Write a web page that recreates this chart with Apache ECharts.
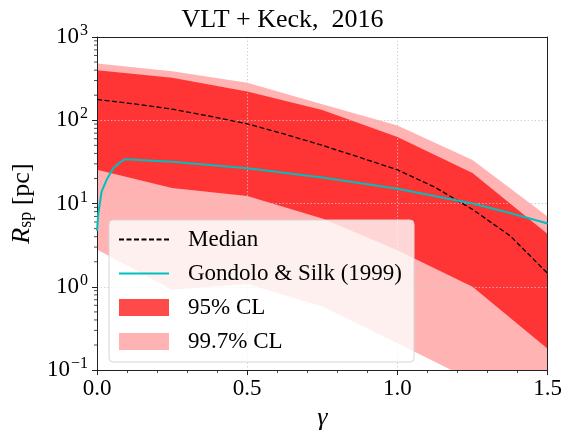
<!DOCTYPE html>
<html>
<head>
<meta charset="utf-8">
<script src="https://cdn.jsdelivr.net/npm/echarts@6/dist/echarts.min.js"></script>
<style>
html,body{margin:0;padding:0;background:#fff;}
#chart{width:565px;height:436px;}
</style>
</head>
<body>
<div id="chart"></div>
<script>
// ---- data ----
const bandGamma = [0, 0.25, 0.5, 0.75, 1.0, 1.25, 1.5];
const cl997Upper = [479, 388, 283, 156, 86.5, 33.3, 7.0];
const cl95Upper = [398, 324, 221, 133, 63, 23.2, 4.3];
const cl95Lower = [25.4, 15.4, 12.3, 6.6, 2.75, 1.0, 0.18];
const cl997Lower = [2.8, 0.92, 1.08, 0.58, 0.21, 0.075, 0.03];

const medianGamma = [0, 0.125, 0.25, 0.375, 0.5, 0.625, 0.75, 0.875, 1.0, 1.125, 1.25, 1.375, 1.5];
const medianValues = [178, 157, 136, 112, 90.6, 68, 50, 35.8, 25.4, 15.7, 8.5, 4.1, 1.45];

const gsGamma = [0, 0.004, 0.0155, 0.032, 0.054, 0.075, 0.093, 0.25, 0.5, 0.75, 1.0, 1.25, 1.375, 1.5];
const gsValues = [4.7, 7.4, 14, 19.3, 26.5, 31, 34, 31.8, 26.5, 20.5, 15.1, 10, 7.7, 5.76];

const xTickLabels = ['0.0', '0.5', '1.0', '1.5'];
const yTickExponents = {'-1': '\u22121', '0': '0', '1': '1', '2': '2', '3': '3'};
const yMinorTicks = [0.2,0.3,0.4,0.5,0.6,0.7,0.8,0.9, 2,3,4,5,6,7,8,9, 20,30,40,50,60,70,80,90, 200,300,400,500,600,700,800,900];

const seriesNames = ['Median', 'Gondolo & Silk (1999)', '95% CL', '99.7% CL'];

// ---- styles ----
const FONT = 'Liberation Serif';
const DARK = '#ff3535';
const LIGHT = '#ffb3b3';
const DARK_LEG = '#ff4a4a';
const TEAL = '#00bfbf';

const chart = echarts.init(document.getElementById('chart'), null, {renderer: 'canvas'});

function bandRender(lo, hi, color) {
  return function (params, api) {
    if (params.dataIndex !== 0) return null;
    const pts = [];
    for (let i = 0; i < bandGamma.length; i++) pts.push(api.coord([bandGamma[i], hi[i]]));
    for (let i = bandGamma.length - 1; i >= 0; i--) pts.push(api.coord([bandGamma[i], lo[i]]));
    const cs = params.coordSys;
    return {
      type: 'polygon',
      shape: {points: pts},
      style: {fill: color},
      clipPath: {type: 'rect', shape: {x: cs.x, y: cs.y, width: cs.width, height: cs.height}}
    };
  };
}

const gridLine = {show: true, lineStyle: {color: '#c8c8c8', width: 0.8, type: [1.5, 2]}};

const option = {
  animation: false,
  backgroundColor: '#fff',
  title: {
    text: 'VLT + Keck,  2016',
    left: 'center',
    top: 2,
    textStyle: {fontFamily: FONT, fontSize: 26, fontWeight: 'normal', color: '#000'}
  },
  grid: {left: 97, right: 16, top: 37, bottom: 61.5},
  legend: {
    orient: 'vertical',
    left: 109,
    top: 220,
    z: 10,
    padding: [8, 12, 9, 9],
    itemGap: 11,
    itemWidth: 50,
    itemHeight: 17,
    backgroundColor: 'rgba(255,255,255,0.8)',
    borderColor: '#d6d6d6',
    borderWidth: 1,
    borderRadius: 4,
    selectedMode: false,
    textStyle: {fontFamily: FONT, fontSize: 23, color: '#000', lineHeight: 23, padding: [0, 0, 0, 14]},
    data: [
      {name: seriesNames[0], itemStyle: {opacity: 0, borderWidth: 0}},
      {name: seriesNames[1], itemStyle: {opacity: 0, borderWidth: 0}},
      {name: seriesNames[2], icon: 'rect', itemStyle: {color: DARK_LEG}},
      {name: seriesNames[3], icon: 'rect', itemStyle: {color: LIGHT}}
    ]
  },
  xAxis: [{
    type: 'value', min: 0, max: 1.5, interval: 0.5, z: 5,
    name: '\u03b3', nameLocation: 'middle', nameGap: 32,
    nameTextStyle: {fontFamily: FONT, fontSize: 26, fontStyle: 'italic', color: '#000'},
    axisLine: {show: true, onZero: false, lineStyle: {color: '#222', width: 1}},
    axisTick: {show: true, inside: false, length: 5, lineStyle: {color: '#222', width: 1}},
    minorTick: {show: true, splitNumber: 5, length: 3, lineStyle: {color: '#222', width: 0.8}},
    axisLabel: {
      margin: 7, fontFamily: FONT, fontSize: 23, color: '#000',
      formatter: function (v) { return xTickLabels[Math.round(v / 0.5)]; }
    },
    splitLine: gridLine
  }, {
    type: 'value', min: 0, max: 1.5, position: 'top', z: 5,
    axisLine: {show: true, onZero: false, lineStyle: {color: '#222', width: 1}},
    axisTick: {show: false}, axisLabel: {show: false}, splitLine: {show: false}
  }],
  yAxis: [{
    type: 'log', logBase: 10, min: 0.1, max: 1000, z: 5,
    name: '{i|R}{s|sp}{n| [pc]}', nameLocation: 'middle', nameGap: 62, nameRotate: 90,
    nameTextStyle: {
      rich: {
        i: {fontFamily: FONT, fontSize: 26, fontStyle: 'italic', color: '#000'},
        s: {fontFamily: FONT, fontSize: 18, color: '#000', padding: [8, 0, 0, 0]},
        n: {fontFamily: FONT, fontSize: 26, color: '#000'}
      }
    },
    axisLine: {show: true, onZero: false, lineStyle: {color: '#222', width: 1}},
    axisTick: {show: true, inside: false, length: 5, lineStyle: {color: '#222', width: 1}},
    axisLabel: {
      margin: 9,
      formatter: function (v) {
        const e = String(Math.round(Math.log10(v)));
        return '{b|10}{s|' + yTickExponents[e] + '}';
      },
      rich: {
        b: {fontFamily: FONT, fontSize: 23, color: '#000'},
        s: {fontFamily: FONT, fontSize: 16, color: '#000', padding: [0, 0, 12, 1]}
      }
    },
    splitLine: gridLine
  }, {
    type: 'log', logBase: 10, min: 0.1, max: 1000, position: 'right', z: 5,
    axisLine: {show: true, onZero: false, lineStyle: {color: '#222', width: 1}},
    axisTick: {show: false}, axisLabel: {show: false}, splitLine: {show: false}
  }],
  series: [
    {
      name: seriesNames[3], type: 'custom', z: 1, silent: true,
      itemStyle: {color: LIGHT},
      data: [[0, 1]],
      renderItem: bandRender(cl997Lower, cl997Upper, LIGHT)
    },
    {
      name: seriesNames[2], type: 'custom', z: 2, silent: true,
      itemStyle: {color: DARK_LEG},
      data: [[0, 1]],
      renderItem: bandRender(cl95Lower, cl95Upper, DARK)
    },
    {
      name: seriesNames[0], type: 'line', z: 6, symbol: 'none', showSymbol: false, smooth: false,
      data: medianGamma.map((g, i) => [g, medianValues[i]]),
      lineStyle: {color: '#000', width: 1.3, type: [5, 2.5]},
      itemStyle: {color: '#000'}
    },
    {
      name: seriesNames[1], type: 'line', z: 6, symbol: 'none', showSymbol: false, smooth: false,
      data: gsGamma.map((g, i) => [g, gsValues[i]]),
      lineStyle: {color: TEAL, width: 2},
      itemStyle: {color: TEAL}
    },
    {
      name: 'yMinor', type: 'custom', z: 6, silent: true,
      data: yMinorTicks.map(v => [0, v]),
      renderItem: function (params, api) {
        const p = api.coord([0, api.value(1)]);
        return {type: 'line', shape: {x1: p[0] - 3, y1: p[1], x2: p[0], y2: p[1]},
                style: {stroke: '#222', lineWidth: 0.8}};
      }
    }
  ]
};
chart.setOption(option);
</script>
</body>
</html>
